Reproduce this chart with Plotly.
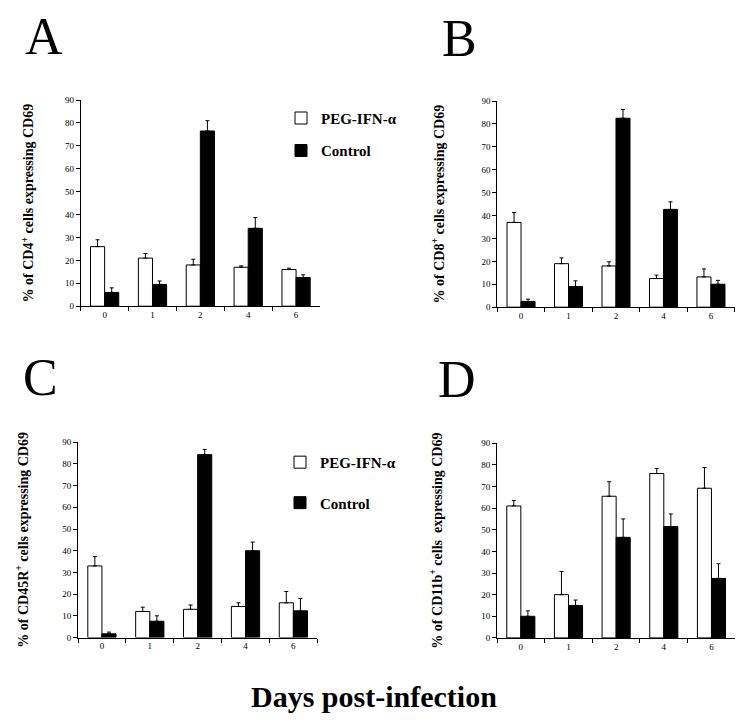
import plotly.graph_objects as go

days = ["0", "1", "2", "4", "6"]
y_ticks = [0, 10, 20, 30, 40, 50, 60, 70, 80, 90]

# Panel A (CD4+)
a_peg = [26, 21, 18, 17, 16]
a_peg_err = [3, 2, 2.5, 0.6, 0.6]
a_ctl = [6, 9.5, 76.5, 34, 12.5]
a_ctl_err = [2, 1.5, 4.5, 4.7, 1.2]

# Panel B (CD8+)
b_peg = [37, 19, 18, 12.5, 13.2]
b_peg_err = [4.3, 2.5, 1.8, 1.5, 3.5]
b_ctl = [2.5, 9, 82.5, 42.7, 10]
b_ctl_err = [1, 2.5, 3.8, 3.3, 1.7]

# Panel C (CD45R+)
c_peg = [33, 12, 13, 14.3, 16]
c_peg_err = [4.3, 2, 2, 1.7, 5.2]
c_ctl = [1.7, 7.5, 84.3, 40, 12.3]
c_ctl_err = [0.8, 2.5, 2.4, 4, 5.7]

# Panel D (CD11b+)
d_peg = [61, 20, 65.5, 76, 69.2]
d_peg_err = [2.5, 10.7, 6.7, 2.3, 9.6]
d_ctl = [10, 15, 46.5, 51.5, 27.5]
d_ctl_err = [2.5, 2.5, 8.5, 5.8, 6.8]

panel_letters = ["A", "B", "C", "D"]
y_titles = [
    "% of CD4<sup>+</sup> cells expressing CD69",
    "% of CD8<sup>+</sup> cells expressing CD69",
    "% of CD45R<sup>+</sup> cells expressing CD69",
    "% of CD11b<sup>+</sup> cells  expressing CD69",
]
series_names = ["PEG-IFN-α", "Control"]
x_title = "Days post-infection"

W, H = 743, 721
SERIF = "Liberation Serif"

def px_x(p):
    return p / W

def px_y(p):
    return 1 - p / H

# pixel boxes of plot areas: (left, right, top, bottom)
boxes = [
    (72.7, 312.0, 88.3, 297.3),
    (489.3, 726.7, 89.3, 298.3),
    (70.0, 309.3, 435.3, 633.3),
    (489.0, 727.3, 436.3, 633.7),
]

data = [
    (a_peg, a_peg_err, a_ctl, a_ctl_err),
    (b_peg, b_peg_err, b_ctl, b_ctl_err),
    (c_peg, c_peg_err, c_ctl, c_ctl_err),
    (d_peg, d_peg_err, d_ctl, d_ctl_err),
]

fig = go.Figure()
legend_ids = {0: "legend", 2: "legend2"}

for i, (peg, peg_err, ctl, ctl_err) in enumerate(data):
    xa = "x" if i == 0 else f"x{i+1}"
    ya = "y" if i == 0 else f"y{i+1}"
    show = i in legend_ids
    leg = legend_ids.get(i, "legend")
    fig.add_trace(go.Bar(
        x=days, y=peg, name=series_names[0], xaxis=xa, yaxis=ya,
        marker=dict(color="white", line=dict(color="black", width=1)),
        error_y=dict(type="data", array=peg_err, symmetric=False,
                     arrayminus=[0] * len(peg_err), color="black",
                     thickness=1, width=2),
        showlegend=show, legend=leg, legendgroup=f"peg{i}",
    ))
    fig.add_trace(go.Bar(
        x=days, y=ctl, name=series_names[1], xaxis=xa, yaxis=ya,
        marker=dict(color="black", line=dict(color="black", width=1)),
        error_y=dict(type="data", array=ctl_err, symmetric=False,
                     arrayminus=[0] * len(ctl_err), color="black",
                     thickness=1, width=2),
        showlegend=show, legend=leg, legendgroup=f"ctl{i}",
    ))

layout = dict(
    width=W, height=H,
    margin=dict(l=0, r=0, t=0, b=0),
    paper_bgcolor="white", plot_bgcolor="white",
    barmode="group", bargap=0.41, bargroupgap=0,
    font=dict(family=SERIF, color="black"),
    annotations=[],
)

title_standoff = [27, 33, 30, 35]
for i, (l, r, t, b) in enumerate(boxes):
    sx = "" if i == 0 else str(i + 1)
    layout[f"xaxis{sx}"] = dict(
        domain=[px_x(l), px_x(r)], anchor=f"y{sx}",
        type="category", range=[-0.5, 4.5], tickson="boundaries",
        ticks="outside", ticklen=4, tickwidth=1, tickcolor="black",
        showline=True, linecolor="black", linewidth=1,
        showgrid=False, zeroline=False,
        tickfont=dict(size=9, family=SERIF, color="black"), fixedrange=True,
    )
    layout[f"yaxis{sx}"] = dict(
        domain=[px_y(b), px_y(t)], anchor=f"x{sx}",
        range=[0, 90], tickvals=y_ticks,
        ticks="outside", ticklen=4, tickwidth=1, tickcolor="black",
        showline=True, linecolor="black", linewidth=1,
        showgrid=False, zeroline=False,
        tickfont=dict(size=9, family=SERIF, color="black"),
        title=dict(text=y_titles[i],
                   font=dict(size=14, family=SERIF, weight="bold", color="black"),
                   standoff=title_standoff[i]),
    )

# panel letters
letter_pos = [(36, 24), (451, 26), (32, 370), (449, 372)]
for letter, (lx, ly) in zip(panel_letters, letter_pos):
    layout["annotations"].append(dict(
        text=letter, x=px_x(lx), y=px_y(ly), xref="paper", yref="paper",
        xanchor="center", yanchor="middle", showarrow=False,
        font=dict(size=52, family=SERIF, color="black"),
    ))

layout["annotations"].append(dict(
    text=f"<b>{x_title}</b>", x=px_x(366), y=px_y(693), xref="paper", yref="paper",
    xanchor="center", yanchor="middle", showarrow=False,
    font=dict(size=30, family=SERIF, color="black"),
))

legend_style = dict(
    xanchor="left", yanchor="top", bgcolor="rgba(0,0,0,0)",
    font=dict(size=15, family=SERIF, weight="bold", color="black"),
    traceorder="grouped", itemclick=False,
)
layout["legend"] = dict(x=px_x(273), y=px_y(90), tracegroupgap=10, **legend_style)
layout["legend2"] = dict(x=px_x(272), y=px_y(439), tracegroupgap=18, **legend_style)

fig.update_layout(**layout)
fig.write_html("out.html")
